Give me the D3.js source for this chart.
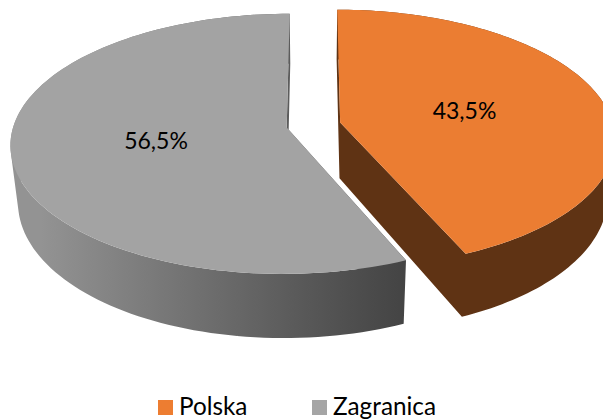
<!DOCTYPE html>
<html><head><meta charset="utf-8">
<script src="https://cdn.jsdelivr.net/npm/d3@7/dist/d3.min.js"></script>
<style>html,body{margin:0;padding:0;background:#fff;overflow:hidden}svg{display:block}text{font-family:Lato,"Open Sans",sans-serif;fill:#000}</style>
</head><body>
<script>
const categories = ["Polska", "Zagranica"];
const shares = [43.5, 56.5];
const shareLabels = ["43,5%", "56,5%"];
const topColors = ["#eb7d32", "#a3a3a3"];
const sideStops = [["#5f3314", "#5f3314", "#5f3314"], ["#939393", "#585858", "#434343"]];
const legendColors = ["#ed7d31", "#a5a5a5"];

const W = 603, H = 419;
const cx = 313.5, cy = 125, A = 273, B = 127.4, k = 0.1246, explode = 0.1;
const depth = 56, shrink = 0.975;

const svg = d3.select("body").append("svg").attr("width", W).attr("height", H);
const defs = svg.append("defs");
const pie = d3.pie().sort(null).value(d => d);
const arcs = pie(shares);

function project(a, r, mid, low) {
  const u = r * Math.sin(a) + explode * Math.sin(mid);
  const v = -r * Math.cos(a) - explode * Math.cos(mid);
  const w = 1 - k * v;
  const s = low ? shrink : 1;
  return [cx + s * A * u / w, cy + B * v / w + (low ? depth / w : 0)];
}
const line = d3.line();
// one quad with a fixed winding, so that all quads of a wall join into one seamless shape
const quad = q => (line(d3.polygonArea(q) < 0 ? q.slice().reverse() : q) + "Z");

const groups = svg.selectAll("g.slice").data(arcs).join("g").attr("class", "slice");
groups.each(function (d, i) {
  const g = d3.select(this);
  const mid = (d.startAngle + d.endAngle) / 2;
  const n = 120;
  const angles = d3.range(n + 1).map(j => d.startAngle + (d.endAngle - d.startAngle) * j / n);
  const rim = angles.map(a => project(a, 1, mid, false));
  const rimLow = angles.map(a => project(a, 1, mid, true));
  const apex = project(0, 0, mid, false), apexLow = project(0, 0, mid, true);

  const gid = "side" + i;
  const grad = defs.append("linearGradient").attr("id", gid)
    .attr("gradientUnits", "userSpaceOnUse")
    .attr("x1", cx - A).attr("x2", cx + 95).attr("y1", 0).attr("y2", 0);
  sideStops[i].forEach((c, j) => grad.append("stop").attr("offset", [0, 0.72, 1][j]).attr("stop-color", c));

  const quads = [[apex, rim[0], rimLow[0], apexLow], [apex, rim[n], rimLow[n], apexLow]];
  d3.range(n).forEach(j => quads.push([rim[j], rim[j + 1], rimLow[j + 1], rimLow[j]]));
  g.append("path").attr("class", "side")
    .attr("d", quads.map(quad).join(""))
    .attr("fill", `url(#${gid})`);
  g.append("path").attr("class", "top")
    .attr("d", line([apex].concat(rim)) + "Z")
    .attr("fill", topColors[i]);
});

const labelPos = [[464.5, 119], [156, 149]];
svg.selectAll("text.share").data(shareLabels).join("text").attr("class", "share")
  .attr("x", (d, i) => labelPos[i][0]).attr("y", (d, i) => labelPos[i][1])
  .attr("text-anchor", "middle").attr("font-size", 23).text(d => d);

const legendX = [158, 312];
const leg = svg.selectAll("g.leg").data(categories).join("g").attr("class", "leg")
  .attr("transform", (d, i) => `translate(${legendX[i]},400)`);
leg.append("rect").attr("width", 15).attr("height", 15).attr("fill", (d, i) => legendColors[i]);
leg.append("text").attr("x", 21).attr("y", 14.5).attr("font-size", 24.3).text(d => d);
</script>
</body></html>
